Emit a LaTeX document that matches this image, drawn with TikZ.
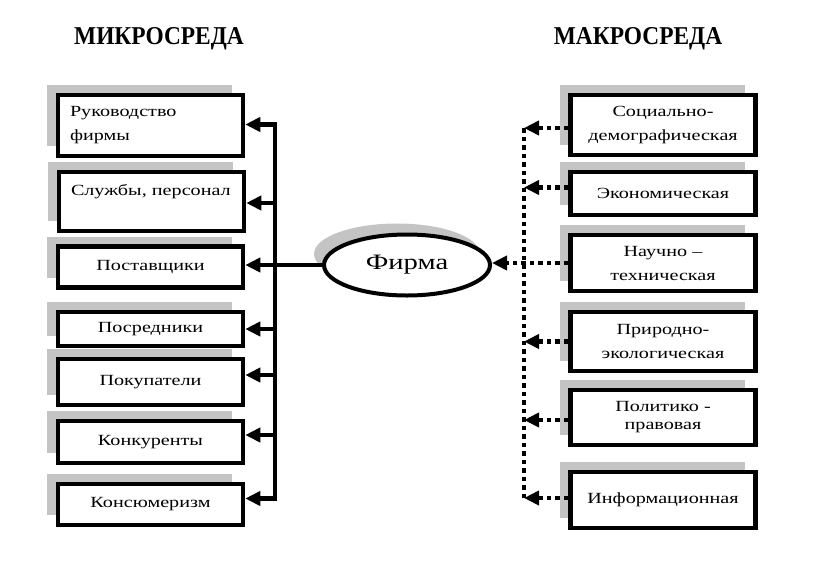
\documentclass[tikz,border=0pt]{standalone}
\usepackage{fontspec}
\setmainfont{Liberation Serif}[FakeStretch=1.3]
\newfontfamily\titlefont{Liberation Serif}[FakeStretch=0.91]
\usepackage{xcolor}
\usepackage{tikz}
\usetikzlibrary{arrows.meta,positioning,shapes,shadows,calc}
\tikzset{
  envbox/.style ={draw, line width=4.5pt, fill=white, align=center,
                  minimum width=185pt, text width=161pt, inner xsep=12pt,
                  inner ysep=2pt, font=\fontsize{15.5}{24}\selectfont,
                  general shadow={fill=shadowgray, shadow xshift=-11pt,
                                  shadow yshift=10pt}},
  firmnode/.style={ellipse, draw, line width=4pt, fill=white,
                  minimum width=166pt, minimum height=61pt, inner sep=0pt,
                  font=\fontsize{22}{26}\selectfont,
                  general shadow={fill=shadowgray, shadow xshift=-10pt,
                                  shadow yshift=11pt}},
  titlenode/.style={font=\titlefont\bfseries\fontsize{25.7}{30}\selectfont,
                  inner sep=0pt},
  arr/.style    ={-{Triangle[length=15pt,width=14pt]}, line width=4.5pt},
  bus/.style    ={line width=4.5pt, line cap=rect},
  darr/.style   ={-{Triangle[length=15pt,width=14pt]}, line width=4.5pt,
                  dash pattern=on 4.5pt off 4pt},
  dbus/.style   ={line width=4.5pt, dash pattern=on 4.5pt off 4pt},
}
\definecolor{shadowgray}{RGB}{196,196,196}

\begin{document}
\begin{tikzpicture}[x=1pt,y=-1pt]
  \useasboundingbox[fill=white] (0,0) rectangle (824,568);
  \node[titlenode] (micro) at (159,38.5) {МИКРОСРЕДА};
  \node[titlenode] (macro) at (638,38.5) {МАКРОСРЕДА};
  % microenvironment
  \node[envbox, align=left, minimum height=61pt] (rk) at (150.5,125.5) {Руководство\\фирмы};
  \node[envbox, align=left, minimum height=59pt] (sl) at (151.5,201.5) {Службы, персонал\\\mbox{}};
  \node[envbox, minimum height=41pt] (post) at (150.5,267) {Поставщики};
  \node[envbox, minimum height=34pt] (posr) at (150.5,329) {Посредники};
  \node[envbox, minimum height=46pt] (pok) at (150.5,382) {Покупатели};
  \node[envbox, minimum height=42pt] (konk) at (150.5,442) {Конкуренты};
  \node[envbox, minimum height=41pt] (kons) at (150.5,504.5) {Консюмеризм};
  % firm
  \node[firmnode] (firm) at (407,265) {Фирма};
  % macroenvironment
  \node[envbox, minimum height=60pt] (soc) at (663,125) {Социально-\\демографическая};
  \node[envbox, minimum height=43pt] (econ) at (663,193.5) {Экономическая};
  \node[envbox, minimum height=56pt] (nauch) at (663,263) {Научно –\\техническая};
  \node[envbox, minimum height=59pt] (prir) at (663,341.5) {Природно-\\экологическая};
  \node[envbox, minimum height=55pt] (polit) at (663,417.5) {Политико -\\[-6pt]правовая};
  \node[envbox, minimum height=56pt] (inf) at (663,500) {Информационная};
  \coordinate (lbus) at (275,0);
  \coordinate (rbus) at (524,0);
  % solid connectors
  \draw[arr](firm.west) -- (firm.west -| post.east);
  \draw[bus]([yshift=1pt]rk.east -| lbus) -- ([yshift=6pt]kons.east -| lbus);
  \draw[arr]([yshift=1pt]rk.east -| lbus) -- ([yshift=1pt]rk.east);
  \draw[arr]([yshift=-1.5pt]sl.east -| lbus) -- ([yshift=-1.5pt]sl.east);
  \draw[arr](posr.east -| lbus) -- (posr.east);
  \draw[arr]([yshift=7pt]pok.east -| lbus) -- ([yshift=7pt]pok.east);
  \draw[arr]([yshift=7pt]konk.east -| lbus) -- ([yshift=7pt]konk.east);
  \draw[arr]([yshift=6pt]kons.east -| lbus) -- ([yshift=6pt]kons.east);
  % dotted connectors
  \draw[dbus]([yshift=-3pt]soc.west -| rbus) -- ([yshift=2pt]inf.west -| rbus);
  \draw[darr]([yshift=-3pt]soc.west) -- ([yshift=-3pt]soc.west -| rbus);
  \draw[darr]([yshift=6pt]econ.west) -- ([yshift=6pt]econ.west -| rbus);
  \draw[darr](nauch.west) -- (nauch.west -| firm.east);
  \draw[darr](prir.west) -- (prir.west -| rbus);
  \draw[darr]([yshift=-2.5pt]polit.west) -- ([yshift=-2.5pt]polit.west -| rbus);
  \draw[darr]([yshift=2pt]inf.west) -- ([yshift=2pt]inf.west -| rbus);
\end{tikzpicture}
\end{document}
